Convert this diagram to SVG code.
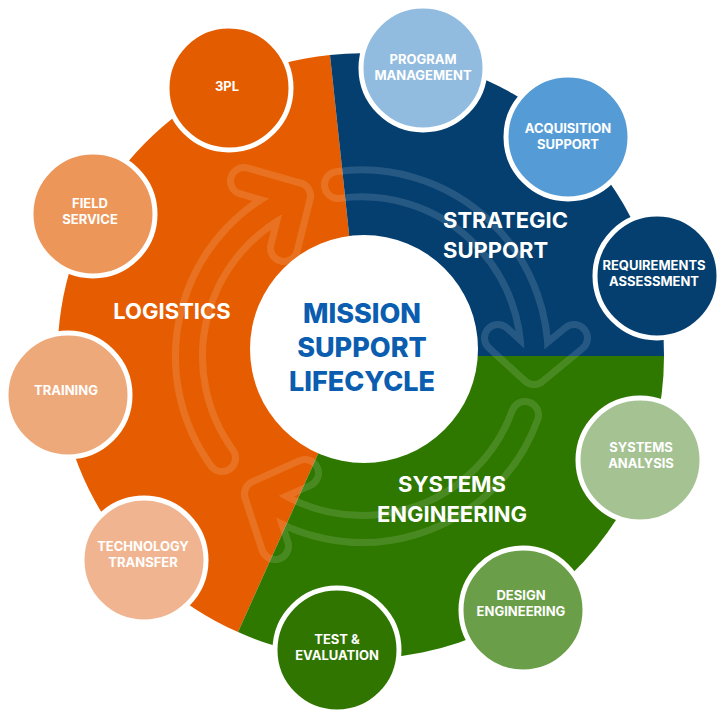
<svg xmlns="http://www.w3.org/2000/svg" width="722" height="715" viewBox="0 0 722 715">
<style>
.sat{stroke:#fff;stroke-width:5}
.st{font-family:Inter,"Liberation Sans",sans-serif;font-weight:700;font-size:13px;fill:#fff;text-anchor:middle}
.seg{font-family:Inter,"Liberation Sans",sans-serif;font-weight:700;font-size:22px;fill:#fff}
.ctr{font-family:Inter,"Liberation Sans",sans-serif;font-weight:800;font-size:27px;fill:#0B5DB0;text-anchor:middle}
.aw{fill:none;stroke:#fff;stroke-width:34;stroke-linecap:round;stroke-linejoin:round}
.ab{fill:none;stroke:#000;stroke-width:20;stroke-linecap:round;stroke-linejoin:round}
</style>
<defs>
<mask id="am">
<g class="aw">
<path d="M222,458 A173,173 0 0 1 297,196 M244,181 L297,196 L284,248"/>
<path d="M338,185 A173,173 0 0 1 534,371 M498,338 L534,371 L574,338"/>
<path d="M525,415 A173,173 0 0 1 258,494 M305,473 L258,494 L275,546"/>
</g>
<g class="ab">
<path d="M222,458 A173,173 0 0 1 297,196 M244,181 L297,196 L284,248"/>
<path d="M338,185 A173,173 0 0 1 534,371 M498,338 L534,371 L574,338"/>
<path d="M525,415 A173,173 0 0 1 258,494 M305,473 L258,494 L275,546"/>
</g>
</mask>
</defs>
<g id="wheel">
<path d="M362,356 L330,55 A302,302 0 0 0 238,632 Z" fill="#E55D00"/>
<path d="M362,356 L330,55 A302,302 0 0 1 664,356 Z" fill="#043F6F"/>
<path d="M362,356 L664,356 A302,302 0 0 1 238,632 Z" fill="#2E7800"/>
<rect x="0" y="0" width="722" height="715" fill="#fff" opacity="0.13" mask="url(#am)"/>
</g>
<g id="center">
<circle cx="364" cy="349" r="114" fill="#fff"/>
<text class="ctr" x="362" y="323">MISSION</text>
<text class="ctr" x="362" y="357">SUPPORT</text>
<text class="ctr" x="362" y="391">LIFECYCLE</text>
</g>
<g id="labels">
<text class="seg" x="172" y="319" text-anchor="middle">LOGISTICS</text>
<text class="seg" x="443" y="228">STRATEGIC</text>
<text class="seg" x="443" y="258">SUPPORT</text>
<text class="seg" x="452" y="492" text-anchor="middle">SYSTEMS</text>
<text class="seg" x="452" y="522" text-anchor="middle">ENGINEERING</text>
</g>
<g id="n-3pl"><circle class="sat" cx="229" cy="88" r="62" fill="#E35D00"/><text class="st" x="227" y="91">3PL</text></g>
<g id="n-field"><circle class="sat" cx="93" cy="214" r="62" fill="#EC9659"/><text class="st" x="90" y="208">FIELD</text><text class="st" x="90" y="224">SERVICE</text></g>
<g id="n-training"><circle class="sat" cx="68" cy="395" r="62" fill="#EEA97A"/><text class="st" x="66" y="395">TRAINING</text></g>
<g id="n-tech"><circle class="sat" cx="144" cy="560" r="62" fill="#F0B590"/><text class="st" x="143" y="551">TECHNOLOGY</text><text class="st" x="143" y="567">TRANSFER</text></g>
<g id="n-program"><circle class="sat" cx="423" cy="68" r="62" fill="#91BCE0"/><text class="st" x="423" y="64">PROGRAM</text><text class="st" x="423" y="80">MANAGEMENT</text></g>
<g id="n-acq"><circle class="sat" cx="568" cy="137" r="62" fill="#559CD6"/><text class="st" x="568" y="133">ACQUISITION</text><text class="st" x="568" y="149">SUPPORT</text></g>
<g id="n-req"><circle class="sat" cx="657" cy="276" r="62" fill="#043F6F"/><text class="st" x="654" y="270">REQUIREMENTS</text><text class="st" x="654" y="286">ASSESSMENT</text></g>
<g id="n-sysan"><circle class="sat" cx="640" cy="460" r="62" fill="#A5C293"/><text class="st" x="641" y="452">SYSTEMS</text><text class="st" x="641" y="468">ANALYSIS</text></g>
<g id="n-design"><circle class="sat" cx="523" cy="610" r="62" fill="#6A9E48"/><text class="st" x="521" y="600">DESIGN</text><text class="st" x="521" y="616">ENGINEERING</text></g>
<g id="n-test"><circle class="sat" cx="337" cy="650" r="62" fill="#2F7500"/><text class="st" x="337" y="644">TEST &amp;</text><text class="st" x="337" y="660">EVALUATION</text></g>
<g id="connectors"></g>
</svg>
